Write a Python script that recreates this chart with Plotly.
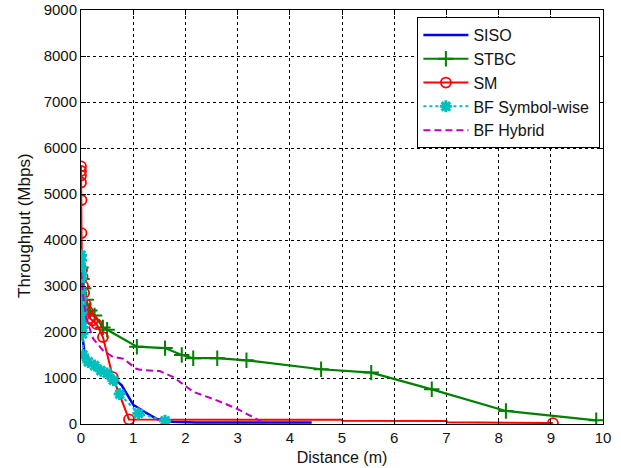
import plotly.graph_objects as go

# ---------------- data ----------------
siso_x = [0.0, 0.01, 0.03, 0.06, 0.12, 0.26, 0.52, 0.78, 1.0, 1.22, 1.45, 1.75, 2.2, 4.42]
siso_y = [2750, 2300, 1900, 1600, 1420, 1240, 1100, 840, 420, 260, 110, 50, 35, 30]

stbc_x = [0.0, 0.02, 0.05, 0.1, 0.17, 0.26, 0.42, 0.5, 1.07, 1.61, 1.93, 2.15, 2.61, 3.17, 4.6, 5.56, 6.72, 8.14, 9.87]
stbc_y = [3400, 3150, 2950, 2700, 2470, 2360, 2100, 2050, 1680, 1650, 1500, 1430, 1430, 1385, 1190, 1117, 754, 283, 80]

sm_x = [0.0, 0.0, 0.0, 0.0, 0.01, 0.01, 0.02, 0.03, 0.04, 0.06, 0.09, 0.13, 0.17, 0.22, 0.3, 0.42, 0.61, 0.92]
sm_y = [5600, 5500, 5400, 5250, 4870, 4150, 3350, 3200, 3000, 2850, 2600, 2450, 2300, 2250, 2170, 1890, 1020, 100]
sm_tail_x = [0.92, 2.95, 2.97, 4.99, 5.01, 7.0, 7.02, 9.04]
sm_tail_y = [100, 100, 90, 90, 70, 65, 40, 20]

bfs_x = [0.0, 0.0, 0.0, 0.0, 0.0, 0.0, 0.01, 0.01, 0.01, 0.01, 0.01, 0.02, 0.03, 0.04, 0.14, 0.26, 0.38, 0.5, 0.62, 0.74, 1.1, 1.61]
bfs_y = [3670, 3560, 3410, 3270, 3160, 2910, 2730, 2540, 2430, 2330, 2220, 2100, 1960, 1500, 1350, 1270, 1160, 1100, 950, 650, 230, 70]

bfh_x = [0.0, 0.02, 0.05, 0.1, 0.23, 0.42, 0.61, 0.81, 1.06, 1.13, 1.51, 1.77, 2.15, 2.6, 2.98, 3.5]
bfh_y = [3300, 3000, 2700, 2300, 1860, 1600, 1460, 1420, 1200, 1180, 1150, 1020, 700, 515, 335, 30]

x_ticks = [0, 1, 2, 3, 4, 5, 6, 7, 8, 9, 10]
y_ticks = [0, 1000, 2000, 3000, 4000, 5000, 6000, 7000, 8000, 9000]

BLUE = "#0000FF"
GREEN = "#008000"
RED = "#FF0000"
CYAN = "#00BFBF"
MAGENTA = "#BF00BF"
FONT = "Liberation Sans, Arial"

fig = go.Figure()

fig.add_trace(go.Scatter(x=siso_x, y=siso_y, mode="lines", name="SISO",
                         line=dict(color=BLUE, width=2.5), legendgroup="a"))
fig.add_trace(go.Scatter(x=stbc_x, y=stbc_y, mode="lines+markers", name="STBC",
                         line=dict(color=GREEN, width=2.2),
                         marker=dict(symbol="cross-thin-open", size=11, color=GREEN,
                                     line=dict(color=GREEN, width=2)),
                         legendgroup="b"))
# SM: full line (with tail steps), markers, and legend proxy
fig.add_trace(go.Scatter(x=sm_x + sm_tail_x[1:], y=sm_y + sm_tail_y[1:], mode="lines",
                         line=dict(color=RED, width=2), showlegend=False))
fig.add_trace(go.Scatter(x=sm_x + sm_tail_x[-1:], y=sm_y + sm_tail_y[-1:], mode="markers",
                         marker=dict(symbol="circle-open", size=10, color=RED,
                                     line=dict(color=RED, width=1.8)),
                         showlegend=False))
fig.add_trace(go.Scatter(x=[None], y=[None], mode="lines+markers", name="SM",
                         line=dict(color=RED, width=2),
                         marker=dict(symbol="circle-open", size=10, color=RED,
                                     line=dict(color=RED, width=1.8)),
                         legendgroup="c"))
fig.add_trace(go.Scatter(x=bfs_x, y=bfs_y, mode="lines+markers",
                         name="BF Symbol-wise\u00a0",
                         line=dict(color=CYAN, width=2, dash="dot"),
                         marker=dict(symbol="asterisk-open", size=10, color=CYAN,
                                     line=dict(color=CYAN, width=3)),
                         legendgroup="d"))
fig.add_trace(go.Scatter(x=bfh_x, y=bfh_y, mode="lines", name="BF Hybrid",
                         line=dict(color=MAGENTA, width=2, dash="7px,4px"),
                         legendgroup="e"))

axis_common = dict(
    showline=True, linecolor="black", linewidth=1, mirror="ticks",
    ticks="inside", ticklen=5, tickcolor="black", tickwidth=1,
    showgrid=True, gridcolor="black", gridwidth=1, griddash="3px,3px",
    zeroline=False, automargin=False,
    tickfont=dict(family=FONT, size=15, color="#111"),
)

fig.update_xaxes(range=[0, 10], tickvals=x_ticks, **axis_common,
                 title=dict(text="Distance (m)", standoff=6,
                            font=dict(family=FONT, size=16, color="#111")))
fig.update_yaxes(range=[0, 9000], tickvals=y_ticks, **axis_common)

# y-axis title placed as an annotation (position matched to the reference)
fig.add_annotation(text="Throughput (Mbps)", textangle=-90,
                   xref="paper", yref="paper", x=-57 / 522, y=(424 - 226) / 414,
                   xanchor="center", yanchor="middle", showarrow=False,
                   font=dict(family=FONT, size=17, color="#111"))

fig.update_layout(
    width=621, height=468,
    margin=dict(l=81, r=18, t=10, b=44),
    paper_bgcolor="white", plot_bgcolor="white",
    font=dict(family=FONT, size=15, color="#111"),
    legend=dict(x=0.995, y=0.983, xanchor="right", yanchor="top",
                bgcolor="white", bordercolor="black", borderwidth=1,
                font=dict(size=16), itemwidth=45, tracegroupgap=0),
    showlegend=True,
)

fig.write_html("out.html")
